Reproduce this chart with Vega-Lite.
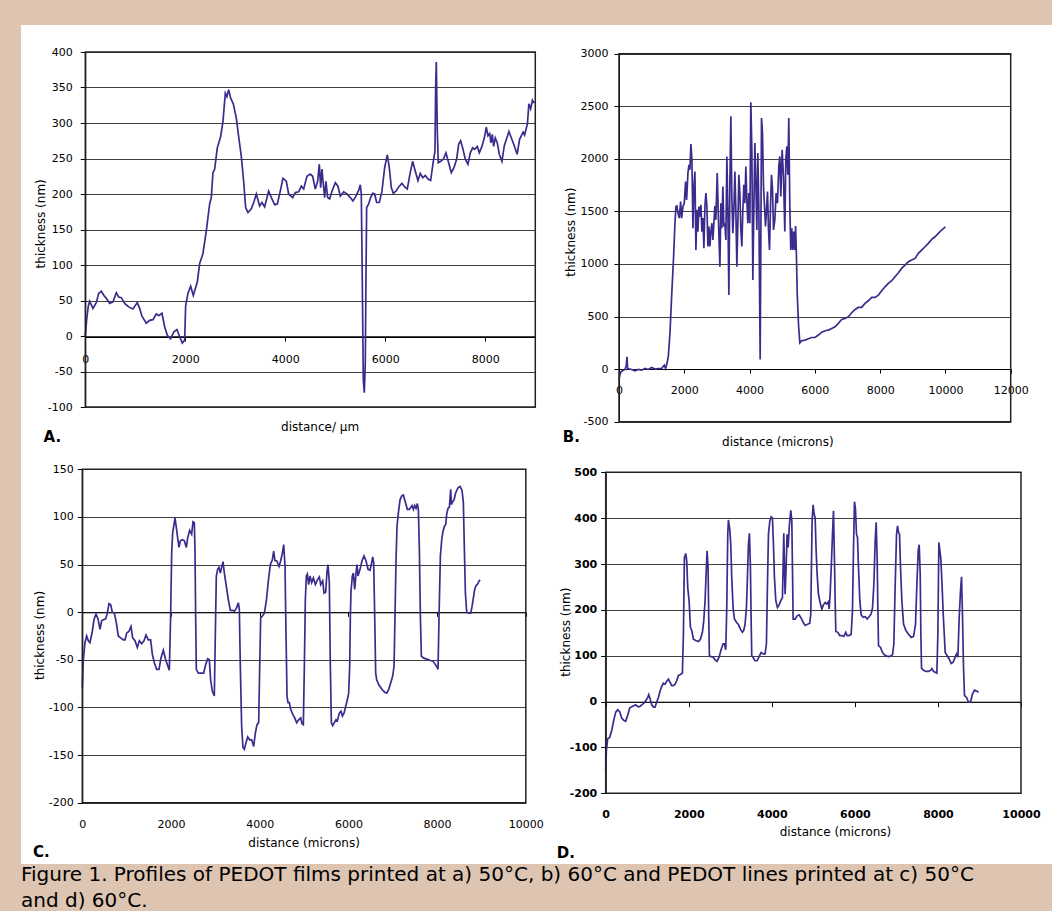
{
"$schema": "https://vega.github.io/schema/vega-lite/v6.json",
"background": "#DEC5B1",
"padding": {"left": 21, "top": 25, "right": 0, "bottom": 0},
"config": {
  "view": {"fill": "white", "stroke": null},
  "font": "DejaVu Sans",
  "axis": {"labelFont": "DejaVu Sans", "labelFontSize": 11, "labelColor": "#000", "titleFont": "DejaVu Sans", "titleFontSize": 12, "titleFontWeight": "normal", "titleColor": "#000", "domainColor": "#000", "tickColor": "#000", "domainWidth": 1, "tickWidth": 1, "gridColor": "#404040", "gridWidth": 1, "gridOpacity": 1, "labelFlush": false, "labelOverlap": false, "titleBaseline": "middle", "labelExpr": "'' + datum.value"}
},
"datasets": {
"A": [{"x":0,"y":0},{"x":30,"y":25},{"x":60,"y":42},{"x":87,"y":49},{"x":153,"y":39},{"x":220,"y":47},{"x":267,"y":60},{"x":320,"y":63},{"x":373,"y":57},{"x":420,"y":53},{"x":487,"y":46},{"x":553,"y":48},{"x":620,"y":61},{"x":667,"y":55},{"x":720,"y":54},{"x":787,"y":46},{"x":867,"y":41},{"x":953,"y":38},{"x":1040,"y":47},{"x":1087,"y":39},{"x":1133,"y":28},{"x":1220,"y":18},{"x":1287,"y":22},{"x":1353,"y":23},{"x":1420,"y":31},{"x":1473,"y":29},{"x":1533,"y":32},{"x":1587,"y":13},{"x":1640,"y":1},{"x":1707,"y":-4},{"x":1773,"y":6},{"x":1833,"y":9},{"x":1887,"y":-1},{"x":1940,"y":-10},{"x":1987,"y":-6},{"x":2007,"y":43},{"x":2053,"y":60},{"x":2107,"y":70},{"x":2160,"y":57},{"x":2240,"y":76},{"x":2287,"y":102},{"x":2353,"y":116},{"x":2420,"y":148},{"x":2487,"y":186},{"x":2520,"y":195},{"x":2553,"y":230},{"x":2587,"y":235},{"x":2640,"y":265},{"x":2707,"y":281},{"x":2753,"y":302},{"x":2800,"y":342},{"x":2833,"y":337},{"x":2867,"y":347},{"x":2907,"y":335},{"x":2960,"y":327},{"x":3020,"y":307},{"x":3067,"y":281},{"x":3120,"y":253},{"x":3167,"y":218},{"x":3207,"y":181},{"x":3253,"y":174},{"x":3320,"y":179},{"x":3373,"y":189},{"x":3420,"y":200},{"x":3487,"y":183},{"x":3533,"y":188},{"x":3587,"y":182},{"x":3667,"y":204},{"x":3733,"y":193},{"x":3787,"y":185},{"x":3840,"y":186},{"x":3893,"y":202},{"x":3953,"y":222},{"x":4020,"y":218},{"x":4067,"y":200},{"x":4147,"y":195},{"x":4200,"y":202},{"x":4267,"y":203},{"x":4320,"y":211},{"x":4367,"y":207},{"x":4433,"y":225},{"x":4500,"y":228},{"x":4547,"y":225},{"x":4600,"y":207},{"x":4647,"y":218},{"x":4680,"y":242},{"x":4707,"y":209},{"x":4733,"y":235},{"x":4760,"y":214},{"x":4787,"y":195},{"x":4813,"y":218},{"x":4847,"y":195},{"x":4887,"y":193},{"x":4933,"y":204},{"x":5000,"y":216},{"x":5053,"y":211},{"x":5100,"y":197},{"x":5167,"y":203},{"x":5233,"y":200},{"x":5300,"y":195},{"x":5353,"y":190},{"x":5413,"y":197},{"x":5467,"y":205},{"x":5500,"y":213},{"x":5520,"y":200},{"x":5540,"y":78},{"x":5560,"y":-62},{"x":5580,"y":-80},{"x":5600,"y":-38},{"x":5613,"y":78},{"x":5627,"y":181},{"x":5667,"y":186},{"x":5707,"y":195},{"x":5747,"y":201},{"x":5787,"y":200},{"x":5827,"y":188},{"x":5880,"y":188},{"x":5933,"y":204},{"x":5987,"y":237},{"x":6040,"y":255},{"x":6080,"y":237},{"x":6120,"y":209},{"x":6160,"y":201},{"x":6213,"y":204},{"x":6267,"y":210},{"x":6333,"y":215},{"x":6387,"y":210},{"x":6440,"y":207},{"x":6493,"y":228},{"x":6547,"y":246},{"x":6600,"y":232},{"x":6653,"y":219},{"x":6700,"y":229},{"x":6747,"y":223},{"x":6800,"y":226},{"x":6853,"y":221},{"x":6907,"y":219},{"x":6960,"y":246},{"x":6993,"y":260},{"x":7007,"y":349},{"x":7020,"y":386},{"x":7040,"y":288},{"x":7060,"y":244},{"x":7107,"y":246},{"x":7160,"y":249},{"x":7213,"y":258},{"x":7267,"y":244},{"x":7320,"y":230},{"x":7373,"y":237},{"x":7427,"y":249},{"x":7467,"y":270},{"x":7507,"y":275},{"x":7547,"y":265},{"x":7600,"y":249},{"x":7653,"y":242},{"x":7700,"y":258},{"x":7747,"y":265},{"x":7787,"y":263},{"x":7840,"y":267},{"x":7880,"y":258},{"x":7933,"y":267},{"x":7987,"y":281},{"x":8020,"y":294},{"x":8053,"y":282},{"x":8087,"y":285},{"x":8113,"y":272},{"x":8140,"y":284},{"x":8167,"y":267},{"x":8200,"y":279},{"x":8240,"y":272},{"x":8280,"y":256},{"x":8333,"y":246},{"x":8380,"y":268},{"x":8473,"y":288},{"x":8579,"y":268},{"x":8636,"y":256},{"x":8686,"y":277},{"x":8757,"y":287},{"x":8786,"y":283},{"x":8843,"y":299},{"x":8871,"y":327},{"x":8907,"y":320},{"x":8943,"y":332},{"x":8980,"y":328}],
"B": [{"x":0,"y":-100},{"x":41,"y":-35},{"x":102,"y":-16},{"x":184,"y":-3},{"x":224,"y":38},{"x":245,"y":118},{"x":265,"y":6},{"x":388,"y":-3},{"x":490,"y":-16},{"x":592,"y":-3},{"x":694,"y":-10},{"x":796,"y":6},{"x":898,"y":-3},{"x":1000,"y":16},{"x":1102,"y":0},{"x":1204,"y":6},{"x":1306,"y":6},{"x":1387,"y":38},{"x":1428,"y":6},{"x":1469,"y":54},{"x":1510,"y":118},{"x":1561,"y":340},{"x":1612,"y":689},{"x":1673,"y":1070},{"x":1714,"y":1388},{"x":1745,"y":1547},{"x":1775,"y":1553},{"x":1806,"y":1483},{"x":1847,"y":1436},{"x":1888,"y":1594},{"x":1918,"y":1436},{"x":1959,"y":1547},{"x":2000,"y":1578},{"x":2040,"y":1785},{"x":2071,"y":1610},{"x":2112,"y":1864},{"x":2142,"y":1944},{"x":2173,"y":1896},{"x":2203,"y":2141},{"x":2234,"y":1991},{"x":2265,"y":1340},{"x":2295,"y":1737},{"x":2326,"y":1880},{"x":2356,"y":1134},{"x":2387,"y":1515},{"x":2417,"y":1308},{"x":2448,"y":1547},{"x":2479,"y":1451},{"x":2509,"y":1563},{"x":2540,"y":1308},{"x":2571,"y":1436},{"x":2601,"y":1150},{"x":2632,"y":1547},{"x":2662,"y":1674},{"x":2693,"y":1547},{"x":2724,"y":1166},{"x":2754,"y":1356},{"x":2785,"y":1166},{"x":2815,"y":1308},{"x":2846,"y":1388},{"x":2876,"y":1229},{"x":2907,"y":1388},{"x":2938,"y":1553},{"x":2968,"y":1420},{"x":3009,"y":1864},{"x":3050,"y":1388},{"x":3091,"y":975},{"x":3121,"y":1578},{"x":3152,"y":1340},{"x":3182,"y":1737},{"x":3213,"y":1356},{"x":3244,"y":1388},{"x":3274,"y":1229},{"x":3305,"y":2023},{"x":3335,"y":1515},{"x":3366,"y":705},{"x":3397,"y":1769},{"x":3427,"y":2404},{"x":3458,"y":1610},{"x":3488,"y":1293},{"x":3519,"y":1515},{"x":3550,"y":1880},{"x":3580,"y":1515},{"x":3611,"y":975},{"x":3641,"y":1388},{"x":3672,"y":1848},{"x":3703,"y":1674},{"x":3733,"y":1324},{"x":3764,"y":1166},{"x":3794,"y":1515},{"x":3825,"y":1753},{"x":3856,"y":1578},{"x":3886,"y":1928},{"x":3917,"y":1610},{"x":3947,"y":1388},{"x":3978,"y":1674},{"x":4009,"y":1388},{"x":4039,"y":2538},{"x":4070,"y":2087},{"x":4100,"y":848},{"x":4131,"y":1515},{"x":4162,"y":2150},{"x":4192,"y":1769},{"x":4223,"y":1324},{"x":4253,"y":2055},{"x":4284,"y":1547},{"x":4325,"y":92},{"x":4366,"y":2388},{"x":4396,"y":2245},{"x":4427,"y":1737},{"x":4458,"y":1547},{"x":4488,"y":1356},{"x":4519,"y":1515},{"x":4550,"y":1690},{"x":4580,"y":1324},{"x":4611,"y":1134},{"x":4641,"y":1547},{"x":4672,"y":1848},{"x":4703,"y":1705},{"x":4733,"y":1324},{"x":4774,"y":1420},{"x":4814,"y":1674},{"x":4855,"y":1578},{"x":4896,"y":1928},{"x":4927,"y":2023},{"x":4957,"y":1642},{"x":4998,"y":2087},{"x":5039,"y":1832},{"x":5080,"y":1308},{"x":5110,"y":1991},{"x":5141,"y":2118},{"x":5172,"y":1848},{"x":5202,"y":2388},{"x":5233,"y":1547},{"x":5263,"y":1134},{"x":5294,"y":1340},{"x":5325,"y":1134},{"x":5355,"y":1308},{"x":5386,"y":1134},{"x":5410,"y":1360},{"x":5435,"y":1090},{"x":5460,"y":720},{"x":5500,"y":420},{"x":5540,"y":250},{"x":5597,"y":270},{"x":5700,"y":276},{"x":5801,"y":289},{"x":5904,"y":301},{"x":6006,"y":301},{"x":6108,"y":324},{"x":6210,"y":352},{"x":6312,"y":365},{"x":6414,"y":371},{"x":6516,"y":387},{"x":6618,"y":403},{"x":6720,"y":435},{"x":6822,"y":473},{"x":6924,"y":482},{"x":7027,"y":498},{"x":7129,"y":536},{"x":7231,"y":568},{"x":7333,"y":587},{"x":7435,"y":587},{"x":7537,"y":625},{"x":7639,"y":650},{"x":7741,"y":682},{"x":7843,"y":682},{"x":7946,"y":704},{"x":8048,"y":745},{"x":8150,"y":783},{"x":8252,"y":815},{"x":8354,"y":841},{"x":8456,"y":879},{"x":8558,"y":917},{"x":8660,"y":958},{"x":8762,"y":990},{"x":8864,"y":1021},{"x":8967,"y":1037},{"x":9069,"y":1053},{"x":9171,"y":1101},{"x":9273,"y":1132},{"x":9375,"y":1164},{"x":9477,"y":1196},{"x":9579,"y":1234},{"x":9681,"y":1259},{"x":9783,"y":1291},{"x":9885,"y":1323},{"x":9998,"y":1354}],
"C": [{"x":0,"y":-79},{"x":23,"y":-50},{"x":60,"y":-32},{"x":98,"y":-25},{"x":136,"y":-30},{"x":173,"y":-32},{"x":226,"y":-20},{"x":263,"y":-8},{"x":309,"y":-2},{"x":354,"y":-7},{"x":399,"y":-18},{"x":436,"y":-9},{"x":474,"y":-8},{"x":527,"y":-7},{"x":564,"y":-1},{"x":602,"y":9},{"x":639,"y":8},{"x":677,"y":0},{"x":722,"y":-1},{"x":767,"y":-11},{"x":812,"y":-25},{"x":865,"y":-27},{"x":925,"y":-29},{"x":963,"y":-29},{"x":1000,"y":-22},{"x":1053,"y":-20},{"x":1098,"y":-15},{"x":1135,"y":-27},{"x":1188,"y":-30},{"x":1241,"y":-37},{"x":1286,"y":-30},{"x":1339,"y":-33},{"x":1391,"y":-30},{"x":1436,"y":-24},{"x":1489,"y":-29},{"x":1541,"y":-29},{"x":1579,"y":-44},{"x":1624,"y":-53},{"x":1677,"y":-60},{"x":1729,"y":-60},{"x":1774,"y":-48},{"x":1827,"y":-40},{"x":1880,"y":-50},{"x":1925,"y":-56},{"x":1962,"y":-61},{"x":1992,"y":-4},{"x":2015,"y":62},{"x":2037,"y":83},{"x":2067,"y":92},{"x":2090,"y":99},{"x":2120,"y":89},{"x":2150,"y":78},{"x":2180,"y":68},{"x":2210,"y":75},{"x":2255,"y":76},{"x":2301,"y":75},{"x":2346,"y":68},{"x":2376,"y":78},{"x":2421,"y":86},{"x":2466,"y":82},{"x":2496,"y":95},{"x":2526,"y":94},{"x":2541,"y":66},{"x":2556,"y":-4},{"x":2571,"y":-60},{"x":2616,"y":-64},{"x":2676,"y":-64},{"x":2737,"y":-64},{"x":2782,"y":-55},{"x":2827,"y":-49},{"x":2864,"y":-50},{"x":2894,"y":-71},{"x":2932,"y":-83},{"x":2977,"y":-88},{"x":3000,"y":-22},{"x":3022,"y":38},{"x":3052,"y":45},{"x":3082,"y":47},{"x":3112,"y":41},{"x":3142,"y":47},{"x":3173,"y":53},{"x":3203,"y":41},{"x":3248,"y":27},{"x":3293,"y":13},{"x":3338,"y":2},{"x":3383,"y":2},{"x":3428,"y":1},{"x":3473,"y":4},{"x":3518,"y":10},{"x":3541,"y":3},{"x":3563,"y":-57},{"x":3593,"y":-120},{"x":3623,"y":-142},{"x":3653,"y":-144},{"x":3691,"y":-137},{"x":3729,"y":-131},{"x":3774,"y":-134},{"x":3819,"y":-134},{"x":3864,"y":-141},{"x":3902,"y":-127},{"x":3939,"y":-118},{"x":3977,"y":-116},{"x":4000,"y":-57},{"x":4022,"y":-6},{"x":4060,"y":-4},{"x":4105,"y":-1},{"x":4150,"y":12},{"x":4195,"y":33},{"x":4240,"y":50},{"x":4285,"y":55},{"x":4315,"y":64},{"x":4345,"y":54},{"x":4383,"y":54},{"x":4436,"y":48},{"x":4473,"y":54},{"x":4511,"y":62},{"x":4541,"y":71},{"x":4571,"y":48},{"x":4593,"y":-22},{"x":4616,"y":-88},{"x":4638,"y":-95},{"x":4668,"y":-95},{"x":4699,"y":-102},{"x":4744,"y":-107},{"x":4789,"y":-111},{"x":4834,"y":-116},{"x":4879,"y":-113},{"x":4924,"y":-111},{"x":4954,"y":-117},{"x":4984,"y":-118},{"x":5007,"y":-57},{"x":5029,"y":13},{"x":5052,"y":38},{"x":5074,"y":40},{"x":5104,"y":29},{"x":5135,"y":38},{"x":5172,"y":31},{"x":5210,"y":36},{"x":5255,"y":29},{"x":5300,"y":34},{"x":5345,"y":37},{"x":5375,"y":29},{"x":5420,"y":33},{"x":5450,"y":20},{"x":5488,"y":21},{"x":5518,"y":43},{"x":5540,"y":50},{"x":5570,"y":31},{"x":5593,"y":-57},{"x":5616,"y":-116},{"x":5646,"y":-119},{"x":5683,"y":-116},{"x":5721,"y":-113},{"x":5751,"y":-114},{"x":5796,"y":-106},{"x":5834,"y":-104},{"x":5864,"y":-109},{"x":5901,"y":-106},{"x":5939,"y":-99},{"x":5976,"y":-92},{"x":6006,"y":-85},{"x":6029,"y":-57},{"x":6044,"y":-4},{"x":6059,"y":22},{"x":6089,"y":38},{"x":6112,"y":41},{"x":6142,"y":24},{"x":6172,"y":41},{"x":6194,"y":50},{"x":6217,"y":38},{"x":6262,"y":45},{"x":6307,"y":54},{"x":6352,"y":59},{"x":6397,"y":54},{"x":6443,"y":45},{"x":6488,"y":44},{"x":6525,"y":52},{"x":6548,"y":58},{"x":6570,"y":52},{"x":6593,"y":-4},{"x":6615,"y":-64},{"x":6638,"y":-71},{"x":6683,"y":-76},{"x":6728,"y":-79},{"x":6773,"y":-82},{"x":6818,"y":-84},{"x":6864,"y":-85},{"x":6909,"y":-81},{"x":6954,"y":-74},{"x":6999,"y":-67},{"x":7029,"y":-57},{"x":7051,"y":-4},{"x":7074,"y":55},{"x":7096,"y":90},{"x":7126,"y":104},{"x":7164,"y":118},{"x":7202,"y":122},{"x":7240,"y":123},{"x":7269,"y":118},{"x":7299,"y":113},{"x":7329,"y":108},{"x":7375,"y":108},{"x":7405,"y":110},{"x":7435,"y":112},{"x":7465,"y":108},{"x":7495,"y":112},{"x":7525,"y":109},{"x":7555,"y":114},{"x":7578,"y":108},{"x":7600,"y":66},{"x":7623,"y":-4},{"x":7645,"y":-46},{"x":7690,"y":-48},{"x":7750,"y":-49},{"x":7811,"y":-50},{"x":7856,"y":-51},{"x":7901,"y":-51},{"x":7946,"y":-54},{"x":7991,"y":-57},{"x":8021,"y":-60},{"x":8044,"y":-4},{"x":8074,"y":59},{"x":8104,"y":76},{"x":8134,"y":85},{"x":8164,"y":90},{"x":8194,"y":92},{"x":8217,"y":103},{"x":8247,"y":109},{"x":8277,"y":110},{"x":8307,"y":129},{"x":8322,"y":113},{"x":8352,"y":116},{"x":8382,"y":118},{"x":8412,"y":124},{"x":8442,"y":128},{"x":8480,"y":131},{"x":8517,"y":132},{"x":8562,"y":128},{"x":8592,"y":115},{"x":8615,"y":66},{"x":8638,"y":20},{"x":8668,"y":0},{"x":8713,"y":-1},{"x":8758,"y":-1},{"x":8788,"y":6},{"x":8818,"y":15},{"x":8848,"y":24},{"x":8878,"y":28},{"x":8908,"y":29},{"x":8938,"y":32},{"x":8968,"y":34}],
"D": [{"x":0,"y":-150},{"x":16,"y":-107},{"x":48,"y":-81},{"x":96,"y":-78},{"x":145,"y":-63},{"x":193,"y":-41},{"x":241,"y":-23},{"x":289,"y":-18},{"x":337,"y":-22},{"x":385,"y":-36},{"x":434,"y":-41},{"x":482,"y":-43},{"x":530,"y":-30},{"x":578,"y":-14},{"x":626,"y":-11},{"x":675,"y":-9},{"x":723,"y":-7},{"x":771,"y":-11},{"x":819,"y":-11},{"x":867,"y":-7},{"x":915,"y":-4},{"x":964,"y":2},{"x":1012,"y":9},{"x":1036,"y":15},{"x":1068,"y":6},{"x":1108,"y":-7},{"x":1148,"y":-12},{"x":1188,"y":-12},{"x":1229,"y":-1},{"x":1269,"y":9},{"x":1309,"y":23},{"x":1349,"y":33},{"x":1389,"y":40},{"x":1429,"y":38},{"x":1469,"y":44},{"x":1510,"y":49},{"x":1550,"y":42},{"x":1590,"y":35},{"x":1630,"y":35},{"x":1670,"y":38},{"x":1711,"y":46},{"x":1751,"y":57},{"x":1799,"y":59},{"x":1847,"y":62},{"x":1871,"y":147},{"x":1895,"y":314},{"x":1927,"y":323},{"x":1951,"y":307},{"x":1975,"y":249},{"x":2008,"y":220},{"x":2040,"y":162},{"x":2072,"y":155},{"x":2112,"y":136},{"x":2168,"y":133},{"x":2232,"y":131},{"x":2281,"y":136},{"x":2329,"y":151},{"x":2361,"y":176},{"x":2393,"y":220},{"x":2417,"y":278},{"x":2441,"y":329},{"x":2465,"y":293},{"x":2481,"y":184},{"x":2497,"y":100},{"x":2537,"y":98},{"x":2586,"y":97},{"x":2634,"y":91},{"x":2682,"y":88},{"x":2730,"y":97},{"x":2778,"y":113},{"x":2827,"y":126},{"x":2859,"y":126},{"x":2891,"y":113},{"x":2915,"y":205},{"x":2939,"y":365},{"x":2955,"y":396},{"x":2987,"y":376},{"x":3011,"y":343},{"x":3035,"y":271},{"x":3067,"y":205},{"x":3100,"y":180},{"x":3148,"y":173},{"x":3196,"y":168},{"x":3244,"y":158},{"x":3292,"y":151},{"x":3324,"y":155},{"x":3356,"y":169},{"x":3389,"y":205},{"x":3413,"y":271},{"x":3437,"y":343},{"x":3461,"y":367},{"x":3485,"y":293},{"x":3501,"y":184},{"x":3517,"y":100},{"x":3557,"y":95},{"x":3597,"y":89},{"x":3646,"y":89},{"x":3694,"y":98},{"x":3742,"y":107},{"x":3790,"y":104},{"x":3838,"y":104},{"x":3870,"y":126},{"x":3895,"y":256},{"x":3919,"y":365},{"x":3951,"y":393},{"x":3983,"y":403},{"x":4015,"y":400},{"x":4039,"y":343},{"x":4063,"y":271},{"x":4096,"y":220},{"x":4136,"y":205},{"x":4176,"y":211},{"x":4216,"y":220},{"x":4256,"y":227},{"x":4272,"y":293},{"x":4288,"y":367},{"x":4304,"y":293},{"x":4320,"y":234},{"x":4344,"y":293},{"x":4368,"y":365},{"x":4392,"y":336},{"x":4425,"y":387},{"x":4457,"y":417},{"x":4481,"y":394},{"x":4497,"y":293},{"x":4513,"y":180},{"x":4561,"y":180},{"x":4609,"y":187},{"x":4657,"y":189},{"x":4706,"y":182},{"x":4754,"y":173},{"x":4802,"y":166},{"x":4850,"y":168},{"x":4914,"y":171},{"x":4938,"y":191},{"x":4954,"y":293},{"x":4970,"y":394},{"x":4994,"y":429},{"x":5019,"y":409},{"x":5043,"y":401},{"x":5067,"y":329},{"x":5091,"y":278},{"x":5123,"y":234},{"x":5163,"y":216},{"x":5203,"y":202},{"x":5244,"y":211},{"x":5284,"y":216},{"x":5324,"y":213},{"x":5364,"y":218},{"x":5380,"y":202},{"x":5404,"y":234},{"x":5437,"y":307},{"x":5461,"y":365},{"x":5485,"y":416},{"x":5509,"y":307},{"x":5525,"y":220},{"x":5541,"y":153},{"x":5589,"y":151},{"x":5637,"y":144},{"x":5685,"y":144},{"x":5733,"y":142},{"x":5781,"y":151},{"x":5814,"y":144},{"x":5862,"y":144},{"x":5910,"y":147},{"x":5942,"y":198},{"x":5966,"y":329},{"x":5990,"y":436},{"x":6014,"y":420},{"x":6039,"y":365},{"x":6063,"y":358},{"x":6087,"y":293},{"x":6119,"y":220},{"x":6151,"y":189},{"x":6200,"y":184},{"x":6248,"y":185},{"x":6296,"y":180},{"x":6344,"y":185},{"x":6392,"y":191},{"x":6425,"y":205},{"x":6457,"y":256},{"x":6489,"y":351},{"x":6513,"y":391},{"x":6537,"y":307},{"x":6553,"y":205},{"x":6569,"y":122},{"x":6617,"y":118},{"x":6666,"y":107},{"x":6714,"y":102},{"x":6762,"y":99},{"x":6810,"y":98},{"x":6858,"y":99},{"x":6906,"y":102},{"x":6938,"y":126},{"x":6971,"y":256},{"x":7003,"y":365},{"x":7027,"y":383},{"x":7051,"y":369},{"x":7075,"y":365},{"x":7099,"y":293},{"x":7131,"y":220},{"x":7172,"y":169},{"x":7228,"y":155},{"x":7292,"y":147},{"x":7357,"y":140},{"x":7413,"y":142},{"x":7460,"y":169},{"x":7493,"y":256},{"x":7525,"y":329},{"x":7549,"y":342},{"x":7573,"y":278},{"x":7589,"y":147},{"x":7605,"y":73},{"x":7653,"y":68},{"x":7709,"y":66},{"x":7773,"y":66},{"x":7822,"y":68},{"x":7854,"y":72},{"x":7894,"y":66},{"x":7934,"y":64},{"x":7974,"y":62},{"x":7998,"y":147},{"x":8022,"y":347},{"x":8046,"y":329},{"x":8070,"y":311},{"x":8095,"y":264},{"x":8127,"y":191},{"x":8175,"y":107},{"x":8223,"y":100},{"x":8271,"y":93},{"x":8319,"y":83},{"x":8367,"y":86},{"x":8415,"y":97},{"x":8448,"y":104},{"x":8480,"y":97},{"x":8512,"y":184},{"x":8544,"y":242},{"x":8568,"y":272},{"x":8592,"y":184},{"x":8616,"y":75},{"x":8640,"y":13},{"x":8689,"y":9},{"x":8737,"y":-1},{"x":8785,"y":-1},{"x":8833,"y":17},{"x":8881,"y":25},{"x":8930,"y":23},{"x":8978,"y":20}]
},
"title": {"text": ["Figure 1. Profiles of PEDOT films printed at a) 50°C, b) 60°C and PEDOT lines printed at c) 50°C", "and d) 60°C."], "orient": "bottom", "anchor": "start", "offset": 1, "font": "DejaVu Sans", "fontSize": 20, "fontWeight": "normal", "color": "#000", "lineHeight": 26, "baseline": "top"},
"spacing": 0,
"vconcat": [
{"spacing": 0, "hconcat": [
  {"width": 524, "height": 423,
   "title": {"text": "A.", "orient": "bottom", "anchor": "start", "offset": -11.3, "dx": 22.6, "baseline": "middle", "font": "DejaVu Sans", "fontSize": 15, "fontWeight": "bold", "color": "#000"},
   "layer": [
    {"data": {"name": "A"}, "mark": {"type": "line", "color": "#3a2c8c", "strokeWidth": 1.7},
     "encoding": {
      "x": {"field": "x", "type": "quantitative", "scale": {"domain": [0, 9000], "range": [64.3, 514.3], "nice": false, "zero": false},
            "axis": {"orient": "bottom", "offset": -111, "values": [0, 2000, 4000, 6000, 8000], "grid": false, "tickSize": 4, "labelPadding": 12, "title": "distance/ µm", "titleX": 298.6, "titleY": 89}},
      "y": {"field": "y", "type": "quantitative", "scale": {"domain": [-100, 400], "range": [382, 27], "nice": false, "zero": false},
            "axis": {"orient": "left", "offset": -64.3, "values": [-100, -50, 0, 50, 100, 150, 200, 250, 300, 350, 400], "grid": true, "tickSize": 5, "labelPadding": 8, "title": "thickness (nm)", "titleX": -45.3, "titleY": 198.3}}}},
    {"data": {"values": [{}]}, "mark": {"type": "rect", "fillOpacity": 0, "stroke": "#222", "strokeWidth": 1.5},
     "encoding": {"x": {"datum": 0, "type": "quantitative"}, "x2": {"datum": 9000}, "y": {"datum": -100, "type": "quantitative"}, "y2": {"datum": 400}}}
   ]},
  {"width": 507, "height": 423,
   "title": {"text": "B.", "orient": "bottom", "anchor": "start", "offset": -11.3, "dx": 17.7, "baseline": "middle", "font": "DejaVu Sans", "fontSize": 15, "fontWeight": "bold", "color": "#000"},
   "layer": [
    {"data": {"name": "B"}, "mark": {"type": "line", "color": "#3a2c8c", "strokeWidth": 1.7},
     "encoding": {
      "x": {"field": "x", "type": "quantitative", "scale": {"domain": [0, 12000], "range": [74, 465.7], "nice": false, "zero": false},
            "axis": {"orient": "bottom", "offset": -79, "values": [0, 2000, 4000, 6000, 8000, 10000, 12000], "grid": false, "tickSize": 4, "labelPadding": 11.6, "title": "distance (microns)", "titleX": 232.3, "titleY": 72.7}},
      "y": {"field": "y", "type": "quantitative", "scale": {"domain": [-500, 3000], "range": [396.7, 28.7], "nice": false, "zero": false},
            "axis": {"orient": "left", "offset": -74, "values": [-500, 0, 500, 1000, 1500, 2000, 2500, 3000], "grid": true, "tickSize": 5, "labelPadding": 6, "title": "thickness (nm)", "titleX": -49, "titleY": 206.7}}}},
    {"data": {"values": [{}]}, "mark": {"type": "rect", "fillOpacity": 0, "stroke": "#222", "strokeWidth": 1.5},
     "encoding": {"x": {"datum": 0, "type": "quantitative"}, "x2": {"datum": 12000}, "y": {"datum": -500, "type": "quantitative"}, "y2": {"datum": 3000}}}
   ]}
]},
{"spacing": 0, "hconcat": [
  {"width": 524, "height": 416,
   "title": {"text": "C.", "orient": "bottom", "anchor": "start", "offset": -11.7, "dx": 11.9, "baseline": "middle", "font": "DejaVu Sans", "fontSize": 15, "fontWeight": "bold", "color": "#000"},
   "layer": [
    {"data": {"name": "C"}, "mark": {"type": "line", "color": "#3a2c8c", "strokeWidth": 1.7},
     "encoding": {
      "x": {"field": "x", "type": "quantitative", "scale": {"domain": [0, 10000], "range": [61.3, 504.8], "nice": false, "zero": false},
            "axis": {"orient": "bottom", "offset": -251.7, "values": [0, 2000, 4000, 6000, 8000, 10000], "grid": false, "tickSize": 4, "labelPadding": 202.3, "title": "distance (microns)", "titleX": 282.6, "titleY": 230.4}},
      "y": {"field": "y", "type": "quantitative", "scale": {"domain": [-200, 150], "range": [354.7, 21.3], "nice": false, "zero": false},
            "axis": {"orient": "left", "offset": -61.3, "values": [-200, -150, -100, -50, 0, 50, 100, 150], "grid": true, "tickSize": 5, "labelPadding": 4, "title": "thickness (nm)", "titleX": -43, "titleY": 187}}}},
    {"data": {"values": [{}]}, "mark": {"type": "rect", "fillOpacity": 0, "stroke": "#222", "strokeWidth": 1.5},
     "encoding": {"x": {"datum": 0, "type": "quantitative"}, "x2": {"datum": 10000}, "y": {"datum": -200, "type": "quantitative"}, "y2": {"datum": 150}}}
   ]},
  {"width": 507, "height": 416,
   "title": {"text": "D.", "orient": "bottom", "anchor": "start", "offset": -10.7, "dx": 11.7, "baseline": "middle", "font": "DejaVu Sans", "fontSize": 15, "fontWeight": "bold", "color": "#000"},
   "layer": [
    {"data": {"name": "D"}, "mark": {"type": "line", "color": "#3a2c8c", "strokeWidth": 1.7},
     "encoding": {
      "x": {"field": "x", "type": "quantitative", "scale": {"domain": [0, 10000], "range": [60.7, 476], "nice": false, "zero": false},
            "axis": {"orient": "bottom", "offset": -162.3, "values": [0, 2000, 4000, 6000, 8000, 10000], "grid": false, "tickSize": 5, "labelPadding": 101.3, "labelFontWeight": "bold", "title": "distance (microns)", "titleX": 290, "titleY": 130}},
      "y": {"field": "y", "type": "quantitative", "scale": {"domain": [-200, 500], "range": [345.3, 24.3], "nice": false, "zero": false},
            "axis": {"orient": "left", "offset": -60.7, "values": [-200, -100, 0, 100, 200, 300, 400, 500], "grid": true, "tickSize": 5, "labelPadding": 4, "labelFontWeight": "bold", "title": "thickness (nm)", "titleX": -40.7, "titleY": 183.7}}}},
    {"data": {"values": [{}]}, "mark": {"type": "rect", "fillOpacity": 0, "stroke": "#222", "strokeWidth": 1.5},
     "encoding": {"x": {"datum": 0, "type": "quantitative"}, "x2": {"datum": 10000}, "y": {"datum": -200, "type": "quantitative"}, "y2": {"datum": 500}}}
   ]}
]}
]
}
